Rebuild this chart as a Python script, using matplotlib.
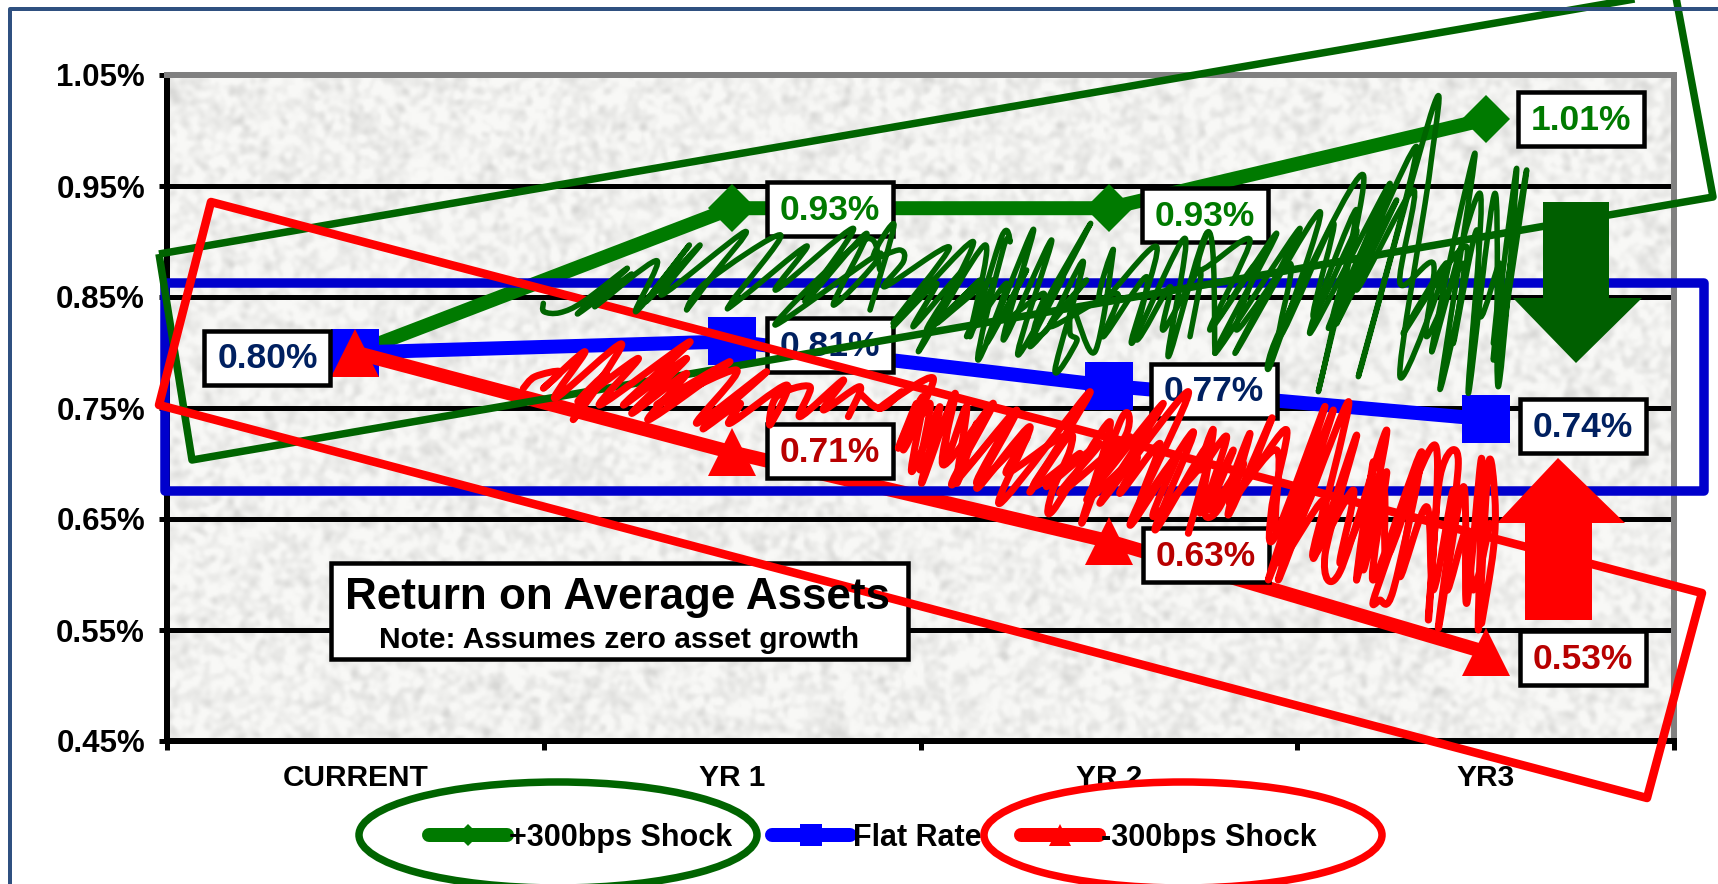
import numpy as np
import matplotlib
matplotlib.use('Agg')
import matplotlib.pyplot as plt
from matplotlib.lines import Line2D
from matplotlib.path import Path
from matplotlib.patches import Ellipse, PathPatch, Polygon, Rectangle
from matplotlib.transforms import IdentityTransform

WIDTH, HEIGHT = 1718, 884
PT = 0.72  # one figure pixel in points at dpi 100

categories = ['CURRENT', 'YR 1', 'YR 2', 'YR3']
shock_up = [0.80, 0.93, 0.93, 1.01]
flat_rate = [0.80, 0.81, 0.77, 0.74]
shock_down = [0.80, 0.71, 0.63, 0.53]
y_ticks = [0.45, 0.55, 0.65, 0.75, 0.85, 0.95, 1.05]

GREEN = '#007A00'
DARK_GREEN = '#006400'
BLUE = '#0000FF'
RECT_BLUE = '#0000CC'
RED = '#FF0000'

# label box centre relative to its point, pixels (right, down); None = no label
up_offsets = [None, (98, 1), (96, 7), (95, 0)]
flat_offsets = [(-88, 5), (98, 4), (105, 5), (97, 7)]
down_offsets = [None, (98, -1), (97, 14), (97, 6)]

# Hand-drawn strokes, (x, y) at 3x figure pixels from the origin given with each
green_ink = [
    ((530, 170), [(40, 400), (42, 425), (90, 428), (160, 395), (292, 295), (142, 432), (305, 312), (195, 410),
                  (380, 272), (318, 425), (478, 225), (348, 395), (510, 225), (395, 375), (645, 185), (545, 320),
                  (470, 420), (530, 335), (752, 195), (605, 395), (625, 392), (830, 228), (738, 360), (970, 175),
                  (825, 395), (1010, 190), (910, 405), (1050, 250), (735, 465), (1000, 210), (1050, 300)]),
    ((870, 170), [(0, 420), (72, 165), (10, 260), (90, 240), (100, 275), (45, 350), (238, 232), (70, 460),
                  (310, 215), (145, 545), (345, 225), (300, 500), (395, 200), (420, 215), (400, 235), (325, 570),
                  (490, 178), (400, 510), (545, 210), (445, 555), (662, 160), (500, 450), (530, 480), (640, 275),
                  (555, 600), (620, 515), (600, 490), (610, 420), (675, 545), (730, 240), (690, 400), (860, 230),
                  (785, 520), (945, 205), (895, 560), (1015, 185), (1035, 550)]),
    ((870, 170), [(70, 470), (200, 340), (130, 470), (280, 300), (170, 480), (330, 330), (200, 460), (370, 330),
                  (290, 500), (410, 340), (350, 520), (470, 300), (400, 450), (520, 370), (500, 440), (580, 320),
                  (480, 530), (650, 330), (540, 470), (740, 370), (700, 500), (830, 320), (800, 510), (900, 350),
                  (880, 480), (990, 300), (960, 500)]),
    ((1200, 130), [(20, 310), (0, 420), (150, 330), (30, 600), (230, 310), (45, 670), (300, 295), (105, 670),
                   (360, 245), (215, 695), (240, 600), (490, 135), (355, 785), (470, 240), (330, 610), (570, 160),
                   (385, 595), (590, 210), (410, 580), (650, 50), (475, 740), (700, -70), (690, 120), (600, 740),
                   (740, 400), (610, 610), (800, 350), (720, 775), (825, 70), (695, 665), (840, 190), (805, 790),
                   (885, 190), (895, 770), (950, 115), (880, 690), (980, 120), (895, 700), (910, 600)]),
    ((1200, 130), [(60, 560), (170, 400), (110, 600), (270, 400), (240, 620), (400, 280), (340, 560), (470, 300),
                   (400, 560), (540, 240), (470, 480), (640, 180), (600, 460), (700, 400), (680, 620), (790, 400),
                   (760, 640), (830, 300), (840, 560), (900, 400), (880, 640)]),
]
red_ink = [
    ((510, 330), [(40, 175), (75, 140), (150, 125), (100, 175), (225, 65), (135, 205), (335, 42), (190, 268),
                  (290, 130), (205, 215), (385, 85), (270, 225), (540, 35), (340, 225), (530, 85), (365, 250),
                  (530, 130), (415, 270), (660, 95), (440, 225), (680, 120), (560, 280), (770, 125), (580, 295),
                  (690, 220), (660, 280), (830, 165), (780, 285), (800, 200), (900, 170), (870, 260), (1000, 150),
                  (940, 240), (1050, 170), (1015, 260)]),
    ((860, 360), [(0, 100), (60, 145), (125, 95), (60, 145), (220, 55), (115, 265), (190, 110), (155, 335),
                  (240, 140), (185, 370), (285, 100), (250, 315), (400, 130), (275, 375), (470, 150), (350, 385),
                  (510, 200), (420, 430), (690, 95), (510, 395), (625, 230), (630, 270), (575, 400), (580, 450),
                  (750, 185), (665, 490), (785, 175), (800, 220), (690, 400), (910, 130), (720, 430), (985, 95),
                  (810, 495), (1000, 215), (885, 510), (1050, 250), (985, 520)]),
    ((860, 360), [(120, 250), (170, 130), (130, 270), (210, 130), (180, 330), (260, 170), (255, 310), (320, 140),
                  (290, 370), (350, 190), (300, 340), (440, 190), (350, 370), (500, 230), (440, 340), (610, 230),
                  (520, 380), (660, 280), (560, 380), (720, 250), (600, 400), (810, 230), (680, 420), (830, 290),
                  (780, 400), (900, 250), (840, 430), (950, 290), (880, 470), (1040, 300)]),
    ((1200, 390), [(0, 370), (40, 120), (0, 240), (80, 140), (15, 360), (60, 350), (150, 130), (85, 375), (215, 85),
                   (160, 240), (260, 120), (215, 355), (225, 440), (375, 50), (205, 570), (400, 60), (235, 570),
                   (445, 35), (340, 505), (470, 135), (375, 495), (420, 545), (560, 120), (470, 570), (520, 215),
                   (490, 540), (560, 245), (520, 570), (665, 185), (580, 600), (540, 630), (530, 600), (705, 165),
                   (685, 690), (720, 260), (775, 220), (715, 715), (790, 290), (800, 640), (845, 205), (835, 720),
                   (865, 225), (885, 330), (880, 480), (845, 700)]),
    ((1200, 390), [(20, 340), (100, 180), (30, 360), (130, 220), (90, 340), (230, 180), (230, 430), (340, 300),
                   (240, 520), (370, 330), (340, 500), (460, 300), (420, 520), (500, 350), (480, 540), (550, 300),
                   (560, 500), (640, 300), (600, 560), (680, 350), (700, 600), (760, 300), (740, 600), (800, 420),
                   (820, 600), (870, 400)]),
]


def paper_texture(rows, cols):
    # mottled grey paper for the plot background
    rng = np.random.default_rng(11)
    fy = np.fft.fftfreq(rows)[:, None]
    fx = np.fft.fftfreq(cols)[None, :]
    soft = np.exp(-(fx ** 2 + fy ** 2) * 2 * (np.pi * 1.4) ** 2)
    blotches = np.fft.ifft2(np.fft.fft2(rng.normal(size=(rows, cols))) * soft).real
    blotches /= blotches.std()
    grey = 241 - 7 * np.clip(blotches, -1, 3.5)
    rgb = np.dstack([grey, grey, grey - 2])
    return np.clip(rgb, 0, 255).astype(np.uint8)


def ink_path(origin, pts):
    # smooth pen stroke running through every traced point
    p = np.array(origin) + np.array(pts, dtype=float) / 3
    q = np.vstack([p[0], p, p[-1]])
    verts = [p[0]]
    codes = [Path.MOVETO]
    for i in range(1, len(q) - 2):
        verts += [q[i] + (q[i + 1] - q[i - 1]) / 6, q[i + 1] - (q[i + 2] - q[i]) / 6, q[i + 1]]
        codes += [Path.CURVE4] * 3
    return Path(verts, codes)


plt.rcParams['font.family'] = ['Liberation Sans', 'DejaVu Sans']
plt.rcParams['font.weight'] = 'bold'

fig = plt.figure(figsize=(WIDTH / 100, HEIGHT / 100), dpi=100, facecolor='white')
ax = fig.add_axes([167 / WIDTH, 1 - 741 / HEIGHT, (1674 - 167) / WIDTH, (741 - 75) / HEIGHT])

ax.imshow(paper_texture(333, 753), extent=(-0.5, 3.5, 0.45, 1.05), aspect='auto',
          interpolation='bilinear', zorder=0)
ax.set_xlim(-0.5, 3.5)
ax.set_ylim(0.45, 1.05)

ax.set_yticks(y_ticks)
ax.set_yticklabels(['%.2f%%' % t for t in y_ticks], fontsize=22.5)
ax.set_xticks(np.arange(len(categories) + 1) - 0.5)
ax.set_xticklabels([])
ax.set_xticks(np.arange(len(categories)), minor=True)
ax.set_xticklabels(categories, minor=True, fontsize=21.5)
ax.tick_params(axis='y', length=8 * PT, width=5 * PT, pad=14 * PT)
ax.tick_params(axis='x', which='major', length=9 * PT, width=5 * PT)
ax.tick_params(axis='x', which='minor', length=0, pad=23 * PT)

ax.set_axisbelow(True)
ax.grid(axis='y', color='black', lw=5 * PT)
for side, colour in [('left', 'black'), ('bottom', 'black'), ('top', '#808080'), ('right', '#808080')]:
    ax.spines[side].set_color(colour)
    ax.spines[side].set_linewidth(6 * PT)

x = np.arange(len(categories))
series = [
    (shock_up, '+300bps Shock', GREEN, 'D', 24, '#007A00', up_offsets),
    (flat_rate, 'Flat Rate', BLUE, 's', 34, '#002060', flat_offsets),
    (shock_down, '-300bps Shock', RED, '^', 34, '#B80000', down_offsets),
]
handles = []
for z, (values, name, colour, marker, size, text_colour, offsets) in enumerate(series):
    line, = ax.plot(x, values, color=colour, lw=14 * PT, marker=marker, ms=size, mew=0,
                    solid_capstyle='round', label=name, zorder=3 + z)
    handles.append(line)

fig.canvas.draw()

# value boxes are sized in pixels and hang off the data point
for values, name, colour, marker, size, text_colour, offsets in series:
    for i, v in enumerate(values):
        if offsets[i] is None:
            continue
        px, py = ax.transData.transform((i, v))
        cx, cy = px + offsets[i][0], py - offsets[i][1]
        box = Rectangle((cx - 63, cy - 27), 126, 54, transform=IdentityTransform(), clip_on=False,
                        fc='white', ec='black', lw=4.5 * PT, zorder=6)
        ax.add_patch(box)
        ax.text(cx, cy - 1, '%.2f%%' % v, transform=IdentityTransform(), ha='center', va='center',
                color=text_colour, fontsize=25.5, zorder=7, clip_on=False)

ax.legend(handles=handles, ncol=3, frameon=False, loc='center', bbox_to_anchor=(873, HEIGHT - 838),
          bbox_transform=IdentityTransform(), fontsize=22, handlelength=2.55, handletextpad=0.08,
          columnspacing=1.3, markerscale=0.45, borderpad=0, borderaxespad=0)

# everything below sits on a full-figure layer in pixel coordinates
sketch = fig.add_axes([0, 0, 1, 1], zorder=5)
sketch.set_xlim(0, WIDTH)
sketch.set_ylim(HEIGHT, 0)
sketch.axis('off')

# chart frame, open on the right and bottom
sketch.add_line(Line2D([10, 10, WIDTH], [HEIGHT, 8.5, 8.5], color='#2F5080', lw=4 * PT))

# title box
sketch.add_patch(Rectangle((331, 563), 577, 96, fc='white', ec='black', lw=4.5 * PT))
sketch.text(617, 598, 'Return on Average Assets', ha='center', va='center', fontsize=31.7)
sketch.text(619, 640, 'Note: Assumes zero asset growth', ha='center', va='center', fontsize=21.6)

sketch.add_patch(Polygon([(165, 283), (1704, 283), (1704, 491), (165, 491)], closed=True, fill=False,
                         ec=RECT_BLUE, lw=9.5 * PT, joinstyle='round'))
sketch.add_patch(Polygon([(159, 254), (1675, -8), (1713, 197), (192, 460)], closed=True, fill=False,
                         ec=DARK_GREEN, lw=7.5 * PT, joinstyle='round'))
sketch.add_patch(Polygon([(211, 202), (1702, 593), (1647, 798), (159, 405)], closed=True, fill=False,
                         ec=RED, lw=8.5 * PT, joinstyle='round'))

for origin, pts in green_ink:
    sketch.add_patch(PathPatch(ink_path(origin, pts), fill=False, ec=DARK_GREEN, lw=5.5 * PT,
                               capstyle='round', joinstyle='round'))
for origin, pts in red_ink:
    sketch.add_patch(PathPatch(ink_path(origin, pts), fill=False, ec=RED, lw=7 * PT,
                               capstyle='round', joinstyle='round'))

# big direction arrows
sketch.add_patch(Polygon([(1543, 202), (1609, 202), (1609, 298), (1642, 298), (1576, 363), (1513, 298), (1543, 298)],
                         closed=True, fc='#005F00', ec='none'))
sketch.add_patch(Polygon([(1558, 458), (1625, 523), (1592, 523), (1592, 620), (1525, 620), (1525, 523), (1497, 523)],
                         closed=True, fc=RED, ec='none'))

# rings round the legend entries
sketch.add_patch(Ellipse((558, 835), 398, 106, fill=False, ec=DARK_GREEN, lw=7.5 * PT))
sketch.add_patch(Ellipse((1183, 835), 398, 106, fill=False, ec=RED, lw=7.5 * PT))

fig.savefig('out.png', dpi=100)
